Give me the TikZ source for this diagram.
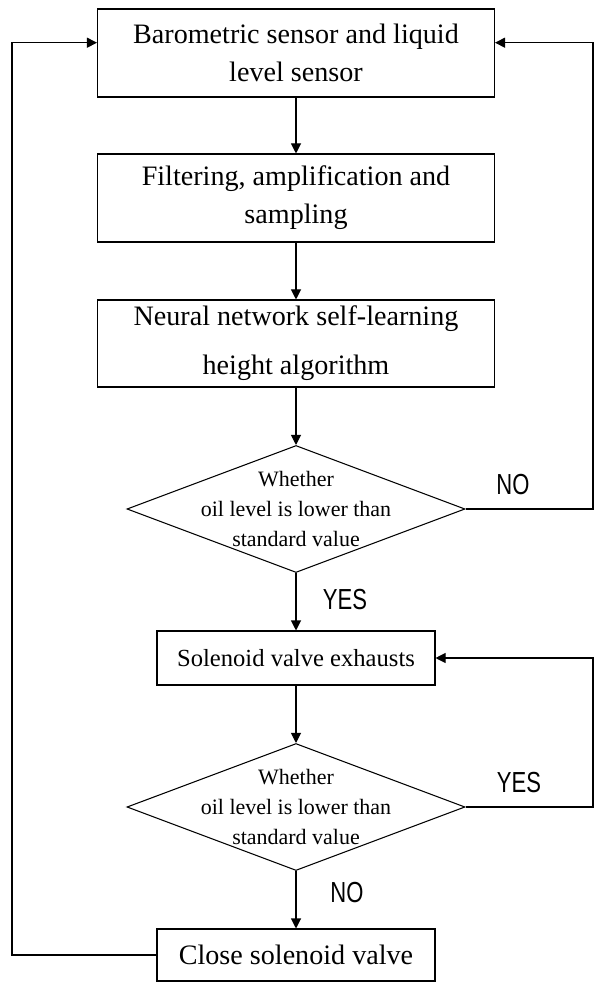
\documentclass[tikz,border=0pt]{standalone}
\usepackage{fontspec}
\setmainfont{Liberation Serif}
\newfontfamily\yesnofont[FakeStretch=0.76]{Liberation Sans}
\usetikzlibrary{shapes.geometric,arrows.meta}

\tikzset{
    procbox/.style={draw, rectangle, line width=0.6pt, align=center, inner sep=2pt},
    decbox/.style={draw, diamond, line width=0.6pt, minimum width=6.76cm, minimum height=2.54cm, inner sep=0pt},
    flowarrow/.style={line width=0.6pt, -{Triangle[length=0.2cm,width=0.2cm]}},
    yesno/.style={font={\yesnofont\fontsize{16.5}{18}\selectfont}, inner sep=0pt}
}

\begin{document}
\begin{tikzpicture}
        \useasboundingbox (0,0) rectangle (11.92,-19.64);

        % Draw boxes
        \node[procbox, minimum width=7.94cm, minimum height=1.76cm, font={\fontsize{16}{21.5}\selectfont}] (sensor) at (5.92, -1.06) {Barometric sensor and liquid\\level sensor};
        \node[procbox, minimum width=7.94cm, minimum height=1.76cm, font={\fontsize{16}{21.5}\selectfont}] (filter) at (5.92, -3.96) {Filtering, amplification and\\sampling};
        \node[procbox, minimum width=7.94cm, minimum height=1.74cm, font={\fontsize{16}{27.8}\selectfont}] (neural) at (5.92, -6.87) {Neural network self-learning\\height algorithm};
        \node[decbox, label={[align=center, font={\fontsize{12.5}{17}\selectfont}]center:Whether\\oil level is lower than\\standard value}] (check1) at (5.92, -10.18) {};
        \node[procbox, minimum width=5.56cm, minimum height=1.08cm, font={\fontsize{14}{17}\selectfont}] (exhaust) at (5.92, -13.16) {Solenoid valve exhausts};
        \node[decbox, label={[align=center, font={\fontsize{12.5}{17}\selectfont}]center:Whether\\oil level is lower than\\standard value}] (check2) at (5.92, -16.14) {};
        \node[procbox, minimum width=5.56cm, minimum height=1.04cm, font={\fontsize{16}{19}\selectfont}] (closevalve) at (5.92, -19.10) {Close solenoid valve};

        % Draw labels
        \node[yesno] (no1) at (10.26, -9.70) {NO};
        \node[yesno] (yes1) at (6.90, -12.00) {YES};
        \node[yesno] (yes2) at (10.38, -15.66) {YES};
        \node[yesno] (no2) at (6.94, -17.86) {NO};

        % Loop corners
        \coordinate (lefttop) at (0.24, -0.854);
        \coordinate (righttop) at (11.86, -0.854);
        \coordinate (rightmid) at (11.86, -13.16);

        % Draw flow lines
        \draw[flowarrow] (sensor) -- (filter);
        \draw[flowarrow] (filter) -- (neural);
        \draw[flowarrow] (neural) -- (check1);
        \draw[flowarrow] (check1) -- (exhaust);
        \draw[flowarrow] (exhaust) -- (check2);
        \draw[flowarrow] (check2) -- (closevalve);

        \draw[flowarrow] (check1.east) -- (check1.east -| righttop) -- (righttop) -- (righttop -| sensor.east);
        \draw[flowarrow] (check2.east) -- (check2.east -| rightmid) -- (rightmid) -- (exhaust.east);
        \draw[flowarrow] (closevalve.west) -- (closevalve.west -| lefttop) -- (lefttop) -- (lefttop -| sensor.west);
    \end{tikzpicture}
\end{document}
